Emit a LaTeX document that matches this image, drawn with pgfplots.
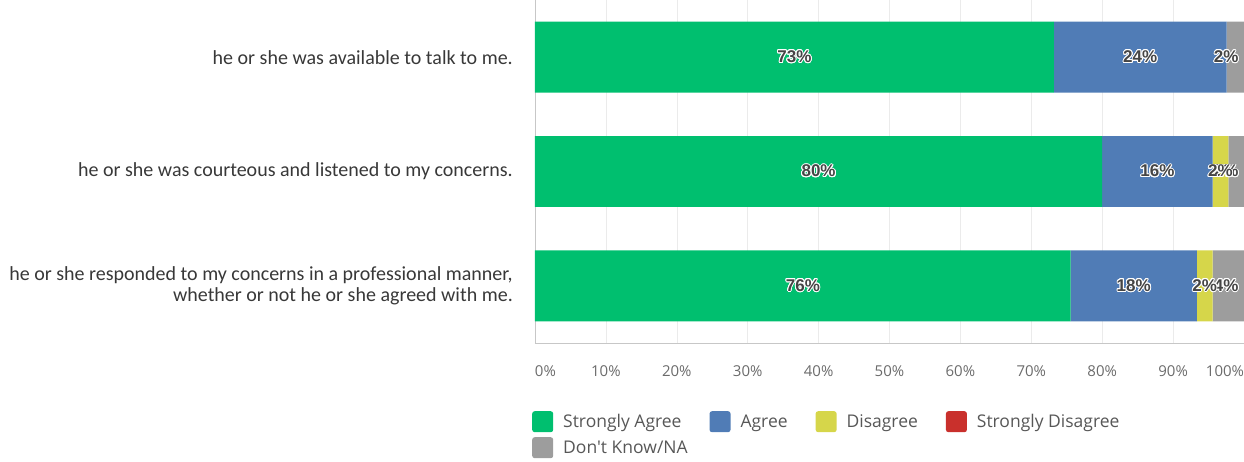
\documentclass[border=0pt]{standalone}
\usepackage{pgfplots}
\usepackage{pgfplotstable}
\pgfplotsset{compat=1.18}
\usepackage{fontspec}
\usepackage{contour}
\contourlength{0.9pt}
\setmainfont{Carlito}
\newfontfamily\uifont{Open Sans}
\newfontfamily\lblfont{Liberation Sans}

\definecolor{sagreen}{HTML}{00BF6F}
\definecolor{agblue}{HTML}{507CB6}
\definecolor{disyel}{HTML}{D6D64A}
\definecolor{sdred}{HTML}{C9302C}
\definecolor{dkgray}{HTML}{9D9D9D}
\definecolor{lbltext}{HTML}{454545}

% shares per statement (percent), bottom row first
\pgfplotstableread{
y sa ag dis dk
0 75.56 17.78 2.22 4.44
1 80.00 15.56 2.22 2.22
2 73.17 24.39 0.00 2.44
}\survey

\begin{document}
\begin{tikzpicture}
\begin{axis}[
  scale only axis, width=709pt, height=343pt,
  xbar stacked, bar width=0.62,
  xmin=0, xmax=100, ymin=-0.5, ymax=2.5,
  ytick={0,1,2},
  yticklabels={{he or she responded to my concerns in a professional manner,\\whether or not he or she agreed with me.},
    {he or she was courteous and listened to my concerns.},
    {he or she was available to talk to me.}},
  yticklabel style={align=right, font=\fontsize{20}{21.5}\selectfont, text=black!78, inner sep=0pt, xshift=-22pt},
  xtick={0,10,...,100},
  xticklabels={\rlap{0\%},10\%,20\%,30\%,40\%,50\%,60\%,70\%,80\%,90\%,\llap{100\%}},
  xticklabel style={font=\uifont\fontsize{15}{17}\selectfont, text=black!58, inner sep=0pt, yshift=-22pt},
  major tick length=0pt,
  axis lines*=left, axis line style={-, draw=black!22},
  xmajorgrids, grid style={draw=black!8},
  point meta=rawx,
  nodes near coords={\pgfmathfloatifflags{\pgfplotspointmeta}{0}{}{\contour{white}{\pgfmathprintnumber[fixed,precision=0,assume math mode=true]{\pgfplotspointmeta}\%}}},
  every node near coord/.append style={font=\lblfont\bfseries\fontsize{17}{19}\selectfont, text=lbltext},
  legend image code/.code={\fill[#1, rounded corners=2.5pt] (0pt,-10.5pt) rectangle (21pt,10.5pt);},
  legend columns=4,
  legend cell align=left,
  legend style={at={(0,0)}, anchor=north west, xshift=-3pt, yshift=-68pt,
    draw=none, fill=none, inner sep=0pt, row sep=5pt,
    font=\uifont\fontsize{17.5}{20}\selectfont, text=black!66,
    /tikz/every odd column/.append style={column sep=8pt},
    /tikz/every even column/.append style={column sep=26pt}},
]
\addplot[fill=sagreen, draw=none] table[x=sa, y=y] {\survey};
\addplot[fill=agblue, draw=none] table[x=ag, y=y] {\survey};
\addplot[fill=disyel, draw=none] table[x=dis, y=y] {\survey};
\addlegendimage{fill=sdred, draw=none}
% labels of the last segment are kept inside the right edge
\addplot[fill=dkgray, draw=none,
  visualization depends on={rawx \as \segw},
  every node near coord/.append style={anchor=east, xshift={\segw*3.545pt-2pt}}]
  table[x=dk, y=y] {\survey};
\legend{Strongly Agree, Agree, Disagree, Strongly Disagree, \rlap{Don't Know/NA}}
\end{axis}
\pgfresetboundingbox
\useasboundingbox (-535pt,-119pt) rectangle (709pt,343pt);
\end{tikzpicture}
\end{document}
